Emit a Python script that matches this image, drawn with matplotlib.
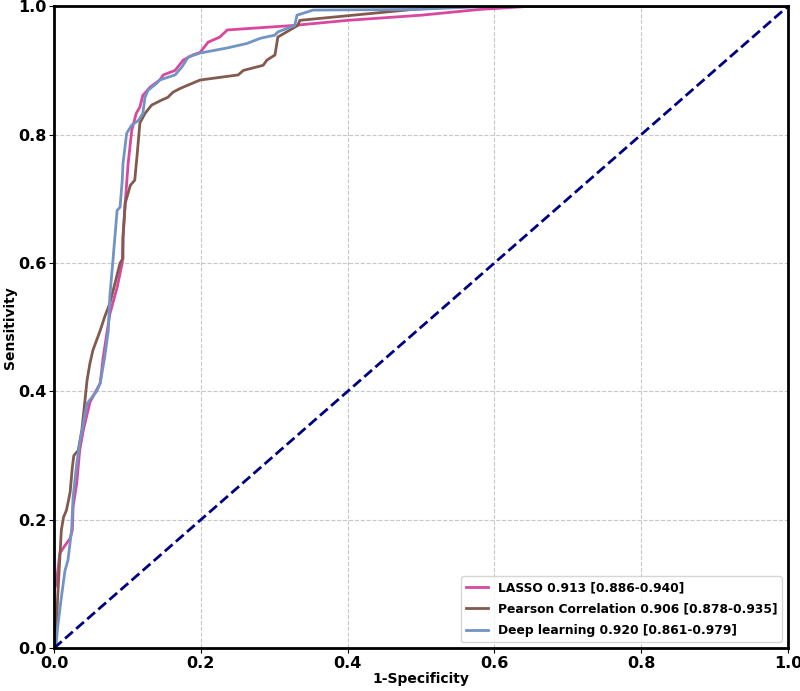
import numpy as np
from matplotlib import pyplot as plt

# ROC curve points (1-specificity, sensitivity)
lasso_fpr = [0.0, 0.0, 0.003, 0.008, 0.015, 0.022, 0.025, 0.026, 0.031, 0.035, 0.040,
             0.049, 0.063, 0.067, 0.076, 0.086, 0.093, 0.094, 0.097, 0.101, 0.106,
             0.112, 0.117, 0.121, 0.131, 0.144, 0.149, 0.165, 0.176, 0.189, 0.199,
             0.210, 0.226, 0.236, 0.326, 0.40, 0.50, 0.58, 0.65, 1.0]
lasso_tpr = [0.0, 0.09, 0.10, 0.148, 0.16, 0.171, 0.184, 0.22, 0.257, 0.308, 0.34,
             0.383, 0.413, 0.453, 0.52, 0.562, 0.60, 0.64, 0.693, 0.755, 0.807,
             0.833, 0.843, 0.861, 0.874, 0.885, 0.893, 0.90, 0.916, 0.924, 0.928,
             0.944, 0.952, 0.963, 0.970, 0.978, 0.986, 0.995, 1.0, 1.0]

pearson_fpr = [0.0, 0.003, 0.005, 0.010, 0.013, 0.017, 0.022, 0.025, 0.027, 0.033,
               0.038, 0.045, 0.049, 0.053, 0.063, 0.069, 0.076, 0.083, 0.090, 0.094,
               0.094, 0.097, 0.104, 0.110, 0.113, 0.117, 0.124, 0.133, 0.147, 0.155,
               0.162, 0.172, 0.199, 0.251, 0.258, 0.285, 0.290, 0.301, 0.305, 0.326,
               0.332, 0.335, 0.489, 0.56, 1.0]
pearson_tpr = [0.0, 0.028, 0.079, 0.184, 0.204, 0.215, 0.243, 0.282, 0.300, 0.308,
               0.34, 0.417, 0.444, 0.464, 0.495, 0.516, 0.537, 0.568, 0.60, 0.607,
               0.64, 0.693, 0.721, 0.729, 0.765, 0.818, 0.833, 0.846, 0.854, 0.858,
               0.866, 0.872, 0.885, 0.893, 0.90, 0.908, 0.916, 0.924, 0.952, 0.966,
               0.970, 0.978, 0.995, 1.0, 1.0]

deep_fpr = [0.0, 0.003, 0.005, 0.010, 0.015, 0.019, 0.024, 0.026, 0.031, 0.035,
            0.045, 0.058, 0.063, 0.069, 0.074, 0.076, 0.080, 0.086, 0.090, 0.093,
            0.094, 0.099, 0.106, 0.115, 0.121, 0.124, 0.128, 0.140, 0.144, 0.165,
            0.174, 0.183, 0.199, 0.236, 0.263, 0.281, 0.301, 0.305, 0.328, 0.331,
            0.353, 0.49, 0.60, 1.0]
deep_tpr = [0.0, 0.008, 0.033, 0.079, 0.121, 0.137, 0.184, 0.235, 0.288, 0.319,
            0.381, 0.40, 0.413, 0.453, 0.495, 0.547, 0.60, 0.682, 0.687, 0.729,
            0.755, 0.802, 0.815, 0.822, 0.833, 0.858, 0.869, 0.880, 0.885, 0.893,
            0.905, 0.921, 0.927, 0.935, 0.942, 0.950, 0.955, 0.960, 0.970, 0.986,
            0.994, 0.995, 1.0, 1.0]

labels = ["LASSO 0.913 [0.886-0.940]",
          "Pearson Correlation 0.906 [0.878-0.935]",
          "Deep learning 0.920 [0.861-0.979]"]
colors = ["#d9479f", "#835a4e", "#7194c4"]

fig, ax = plt.subplots(figsize=(8, 6.91), dpi=100)
fig.subplots_adjust(left=0.0675, right=0.985, bottom=0.062, top=0.991)

curves = [(lasso_fpr, lasso_tpr), (pearson_fpr, pearson_tpr), (deep_fpr, deep_tpr)]
for (fpr, tpr), lab, col in zip(curves, labels, colors):
    ax.plot(fpr, tpr, color=col, lw=2, label=lab)

ax.plot([0, 1], [0, 1], color="navy", lw=2, linestyle="--")

ax.set_xlim(0, 1)
ax.set_ylim(0, 1)
ax.grid(True, linestyle="--", color="#c8c8c8", lw=0.8)
ax.set_xlabel("1-Specificity", fontsize=10, fontweight="bold", labelpad=1)
ax.set_ylabel("Sensitivity", fontsize=10, fontweight="bold", labelpad=1)
ax.tick_params(pad=2)
for lbl in ax.get_xticklabels() + ax.get_yticklabels():
    lbl.set_fontweight("bold")
    lbl.set_fontsize(11.5)
for sp in ax.spines.values():
    sp.set_linewidth(2)

leg = ax.legend(loc="lower right", prop={"weight": "bold", "size": 8.8},
                labelspacing=0.7, handlelength=1.8)

plt.savefig("out.png", dpi=100)
